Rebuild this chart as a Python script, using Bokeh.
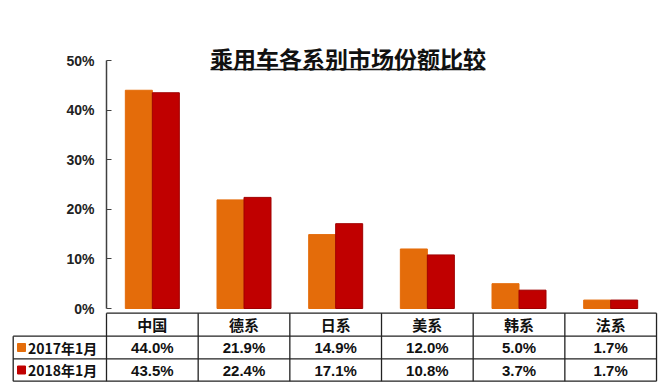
from bokeh.plotting import figure
from bokeh.models import Range1d, FixedTicker, PrintfTickFormatter, ColumnDataSource
from bokeh.core.properties import value
from bokeh.embed import file_html
from bokeh.resources import INLINE

# ---- data ----
categories = ["中国", "德系", "日系", "美系", "韩系", "法系"]
series_names = ["2017年1月", "2018年1月"]
share_2017 = [44.0, 21.9, 14.9, 12.0, 5.0, 1.7]
share_2018 = [43.5, 22.4, 17.1, 10.8, 3.7, 1.7]
y_ticks = [0, 10, 20, 30, 40, 50]
title_text = "乘用车各系别市场份额比较"

# ---- layout helpers (page pixel -> data) ----
OFF = 0                                # page offset of the figure
W, H = 658, 386
AX_PX, COL_PX = 106.0, 91.67          # axis x on page, column width
Y0_PX, UNIT_PX = 308.0, 4.96          # 0% on page, px per 1%
def dx(px): return (px - AX_PX) / COL_PX
def dy(py): return (Y0_PX - py) / UNIT_PX

C1, C2 = "#E46C0A", "#C00000"
FONT = "Liberation Sans"
CJK = "Noto Sans CJK SC"

p = figure(width=W, height=H, output_backend="svg", toolbar_location=None,
           x_range=Range1d(dx(OFF), dx(OFF + W)), y_range=Range1d(dy(OFF + H), dy(OFF)),
           x_axis_location=None, y_axis_location="left",
           min_border=0, min_border_left=0, min_border_right=0,
           min_border_top=0, min_border_bottom=0)
p.outline_line_color = None
p.xgrid.visible = False
p.ygrid.visible = False

ax = p.yaxis[0]
ax.fixed_location = 0
ax.bounds = (y_ticks[0], y_ticks[-1])
ax.ticker = FixedTicker(ticks=y_ticks)
ax.formatter = PrintfTickFormatter(format="%d%%")
ax.major_tick_in = 5
ax.major_tick_out = 0
ax.minor_tick_line_color = None
ax.axis_line_color = "#404040"
ax.axis_line_width = 1.5
ax.major_tick_line_color = "#404040"
ax.major_tick_line_width = 1.2
ax.major_label_text_font = FONT
ax.major_label_text_font_style = "bold"
ax.major_label_text_font_size = "14px"
ax.major_label_text_color = "#222222"
ax.major_label_standoff = 12

n = len(categories)
centers = [i + 0.5 for i in range(n)]
bw = 27 / COL_PX
src = ColumnDataSource(dict(x1=[c - bw / 2 for c in centers], x2=[c + bw / 2 for c in centers],
                            y1=share_2017, y2=share_2018))
p.vbar(x="x1", top="y1", bottom=0, width=bw, source=src, fill_color=C1, line_color=C1)
p.vbar(x="x2", top="y2", bottom=0, width=bw, source=src, fill_color=C2, line_color="#A00000")

# ---- title ----
p.text(x=[dx(347.5)], y=[dy(57)], text=[title_text], text_align="center", text_baseline="middle",
       text_font=value(CJK), text_font_style="bold", text_font_size="23px", text_color="#111111")
p.segment(x0=[dx(210)], y0=[dy(69)], x1=[dx(485)], y1=[dy(69)], line_color="#111111", line_width=1.5)

# ---- data table ----
t_top, r1_top, r2_top, t_bot = dy(312.7), dy(335.7), dy(358.3), dy(380.7)
leg_left = dx(12.7)
lc, lw = "#222222", 1.3
# horizontal lines
p.segment(x0=[0, leg_left, leg_left, leg_left], y0=[t_top, r1_top, r2_top, t_bot],
          x1=[n, n, n, n], y1=[t_top, r1_top, r2_top, t_bot], line_color=lc, line_width=lw)
# vertical lines
p.segment(x0=list(range(n + 1)), y0=[t_top] * (n + 1), x1=list(range(n + 1)), y1=[t_bot] * (n + 1),
          line_color=lc, line_width=lw)
p.segment(x0=[leg_left], y0=[r1_top], x1=[leg_left], y1=[t_bot], line_color=lc, line_width=lw)

hdr_y = (t_top + r1_top) / 2
row1_y = (r1_top + r2_top) / 2
row2_y = (r2_top + t_bot) / 2
p.text(x=centers, y=[hdr_y] * n, text=categories, text_align="center", text_baseline="middle",
       text_font=value(CJK), text_font_style="bold", text_font_size="15px", text_color="#111111")
p.text(x=centers, y=[row1_y] * n, text=[f"{v:.1f}%" for v in share_2017], text_align="center",
       text_baseline="middle", text_font=value(FONT), text_font_style="bold", text_font_size="15px",
       text_color="#111111")
p.text(x=centers, y=[row2_y] * n, text=[f"{v:.1f}%" for v in share_2018], text_align="center",
       text_baseline="middle", text_font=value(FONT), text_font_style="bold", text_font_size="15px",
       text_color="#111111")
# legend keys
p.scatter(x=[dx(21), dx(21)], y=[row1_y, row2_y], marker="square", size=8,
          fill_color=[C1, C2], line_color=[C1, C2])
p.text(x=[dx(27.5), dx(27.5)], y=[row1_y, row2_y], text=series_names, text_align="left",
       text_baseline="middle", text_font=value(CJK), text_font_style="bold", text_font_size="14px",
       text_color="#111111")

open("out.html", "w").write(file_html(p, INLINE))
